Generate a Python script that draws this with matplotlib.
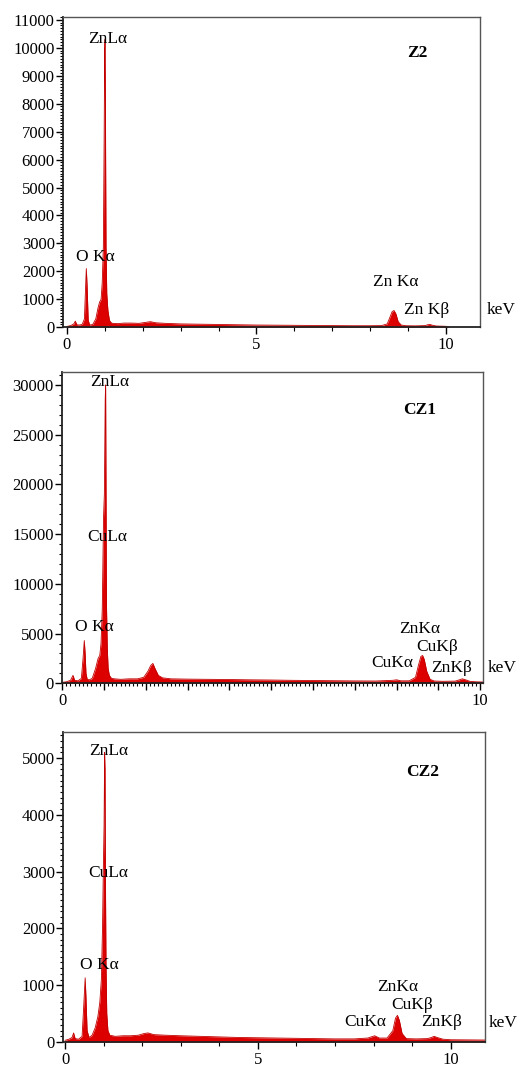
import numpy as np
import matplotlib
matplotlib.use("Agg")
import matplotlib.pyplot as plt
from matplotlib.ticker import MultipleLocator

plt.rcParams['font.family'] = ['Liberation Serif', 'DejaVu Serif']

# Z2 spectrum (keV, counts)
e_z2 = [0.0, 0.1, 0.18, 0.22, 0.26, 0.32, 0.40, 0.46, 0.49, 0.51, 0.53, 0.56, 0.60, 0.68,
        0.76, 0.82, 0.86, 0.9, 0.93, 0.96, 0.98, 0.995, 1.005, 1.015, 1.03, 1.05,
        1.08, 1.12, 1.16, 1.2, 1.35, 1.5, 1.7, 1.9, 2.05, 2.2, 2.35, 2.6, 3.0, 3.5,
        4.0, 4.5, 5.0, 5.5, 6.0, 6.5, 7.0, 7.5, 8.0, 8.3, 8.45, 8.52, 8.58, 8.63, 8.68, 8.74,
        8.82, 8.95, 9.2, 9.45, 9.52, 9.58, 9.65, 9.75, 10.0, 10.1]
c_z2 = [30, 60, 120, 220, 90, 80, 100, 300, 1400, 2100, 1500, 250, 80, 100,
        300, 700, 900, 1000, 1600, 2900, 6600, 9900, 10300, 7700, 2900, 1200,
        600, 250, 170, 140, 130, 150, 150, 140, 170, 200, 160, 140, 120, 110,
        100, 90, 80, 75, 70, 65, 60, 55, 55, 60, 120, 350, 560, 600, 480, 200,
        80, 55, 50, 60, 90, 100, 70, 45, 35, 0]

# CZ1 spectrum
e_cz1 = [0.0, 0.1, 0.2, 0.26, 0.3, 0.38, 0.46, 0.5, 0.53, 0.55, 0.57, 0.6, 0.65, 0.72, 0.8,
         0.86, 0.9, 0.93, 0.96, 0.99, 1.01, 1.03, 1.04, 1.05, 1.06, 1.08, 1.1, 1.13, 1.18,
         1.25, 1.4, 1.6, 1.8, 1.95, 2.05, 2.12, 2.17, 2.22, 2.3, 2.4, 2.6, 3.0, 3.5, 4.0,
         4.5, 5.0, 5.5, 6.0, 6.5, 7.0, 7.5, 7.9, 8.0, 8.1, 8.3, 8.45, 8.52, 8.58, 8.62, 8.66,
         8.72, 8.8, 8.9, 9.1, 9.4, 9.5, 9.57, 9.65, 9.75, 9.9, 10.07]
c_cz1 = [100, 150, 300, 800, 300, 250, 500, 2500, 4300, 3000, 1000, 400, 350, 500, 1500,
         2500, 2800, 4000, 7500, 16700, 19000, 28500, 30000, 19000, 8000, 3500, 1500, 800, 500,
         450, 400, 450, 450, 600, 1200, 1800, 2000, 1500, 800, 550, 450, 420, 400, 380,
         350, 330, 300, 280, 260, 240, 230, 300, 350, 250, 250, 600, 1800, 2700, 2800, 2400,
         1200, 400, 230, 200, 220, 350, 450, 350, 200, 150, 130]

# CZ2 spectrum
e_cz2 = [0.0, 0.1, 0.18, 0.22, 0.26, 0.35, 0.44, 0.48, 0.52, 0.54, 0.57, 0.62, 0.7, 0.78,
         0.85, 0.9, 0.94, 0.97, 0.99, 1.01, 1.025, 1.035, 1.045, 1.06, 1.08, 1.11, 1.16, 1.3,
         1.5, 1.7, 1.9, 2.05, 2.15, 2.3, 2.6, 3.0, 3.5, 4.0, 4.5, 5.0, 5.5, 6.0, 6.5, 7.0,
         7.5, 7.85, 8.03, 8.15, 8.35, 8.5, 8.57, 8.62, 8.67, 8.74, 8.85, 9.1, 9.4, 9.5, 9.57,
         9.65, 9.8, 10.0, 10.9]
c_cz2 = [30, 50, 80, 160, 60, 50, 100, 600, 1130, 800, 200, 80, 120, 250,
         450, 700, 1100, 2000, 3000, 3800, 5100, 4800, 3000, 1400, 500, 200, 120, 100,
         110, 110, 120, 150, 160, 130, 120, 110, 100, 90, 80, 75, 70, 65, 60, 55,
         55, 70, 110, 70, 70, 200, 420, 470, 380, 150, 60, 55, 60, 80, 100,
         80, 50, 40, 35]

# peak labels: (text, keV, counts)
lab_z2 = [("ZnL\u03b1", 1.08, 10320), ("O K\u03b1", 0.74, 2510),
          ("Zn K\u03b1", 8.68, 1610), ("Zn K\u03b2", 9.5, 610)]
lab_cz1 = [("ZnL\u03b1", 1.14, 30280), ("CuL\u03b1", 1.07, 14690), ("O K\u03b1", 0.78, 5630),
           ("ZnK\u03b1", 8.54, 5430), ("CuK\u03b2", 8.96, 3620), ("CuK\u03b1", 7.89, 2010),
           ("ZnK\u03b2", 9.31, 1510)]
lab_cz2 = [("ZnL\u03b1", 1.12, 5130), ("CuL\u03b1", 1.12, 2970), ("O K\u03b1", 0.89, 1350),
           ("ZnK\u03b1", 8.63, 970), ("CuK\u03b2", 9.0, 650), ("CuK\u03b1", 7.78, 350),
           ("ZnK\u03b2", 9.76, 350)]

red = '#dd0000'
fs = 12
lfs = 12.5

fig = plt.figure(figsize=(5.31, 10.66), dpi=100)
ax1 = fig.add_axes([0.119, 0.693, 0.785, 0.291])
ax2 = fig.add_axes([0.117, 0.359, 0.793, 0.292])
ax3 = fig.add_axes([0.119, 0.0225, 0.795, 0.291])

panels = [
    (ax1, e_z2, c_z2, lab_z2, "Z2", (-0.1, 10.9), (0, 11100), 1000, 100, (11.45, 620), (9.24, 9820)),
    (ax2, e_cz1, c_cz1, lab_cz1, "CZ1", (0, 10.07), (0, 31300), 5000, 1000, (10.52, 1510), (8.54, 27470)),
    (ax3, e_cz2, c_cz2, lab_cz2, "CZ2", (-0.05, 10.9), (0, 5460), 1000, 100, (11.37, 335), (9.27, 4760)),
]

for ax, e, c, labs, name, xl, yl, ymaj, ymin, kev_xy, name_xy in panels:
    ax.fill_between(e, 0, c, color=red, lw=0)
    ax.plot(e, c, color='#c00000', lw=0.6)
    ax.set_xlim(*xl)
    ax.set_ylim(*yl)
    ax.yaxis.set_major_locator(MultipleLocator(ymaj))
    ax.yaxis.set_minor_locator(MultipleLocator(ymin))
    for t, x, y in labs:
        ax.text(x, y, t, fontsize=lfs, ha='center', va='center')
    ax.text(kev_xy[0], kev_xy[1], "keV", fontsize=lfs, ha='center', va='center', clip_on=False)
    ax.text(name_xy[0], name_xy[1], name, fontsize=lfs, fontweight='bold', ha='center', va='center')
    for s in ['left', 'bottom']:
        ax.spines[s].set_color('#222222')
        ax.spines[s].set_linewidth(1.3)
    for s in ['top', 'right']:
        ax.spines[s].set_color('#555555')
        ax.spines[s].set_linewidth(1.0)
    ax.tick_params(axis='y', which='major', direction='out', length=5, width=1, labelsize=fs, pad=1)
    ax.tick_params(axis='y', which='minor', direction='out', length=2.5, width=0.8)
    ax.tick_params(axis='x', which='major', direction='out', length=5, width=1, labelsize=fs, pad=2)
    ax.tick_params(axis='x', which='minor', direction='out', length=3, width=0.8)

# x ticks: Z2 and CZ2 labelled at 0, 5, 10 with 1 keV minors
for ax in [ax1, ax3]:
    ax.set_xticks([0, 5, 10])
    ax.xaxis.set_minor_locator(MultipleLocator(1))

# CZ1: ticks every keV, only 0 and 10 labelled
ax2.set_xticks(range(11))
ax2.set_xticklabels(['0'] + [''] * 9 + ['10'])
ax2.xaxis.set_minor_locator(MultipleLocator(0.1))
ax2.tick_params(axis='x', which='minor', length=2)

fig.savefig('out.png', dpi=100)
